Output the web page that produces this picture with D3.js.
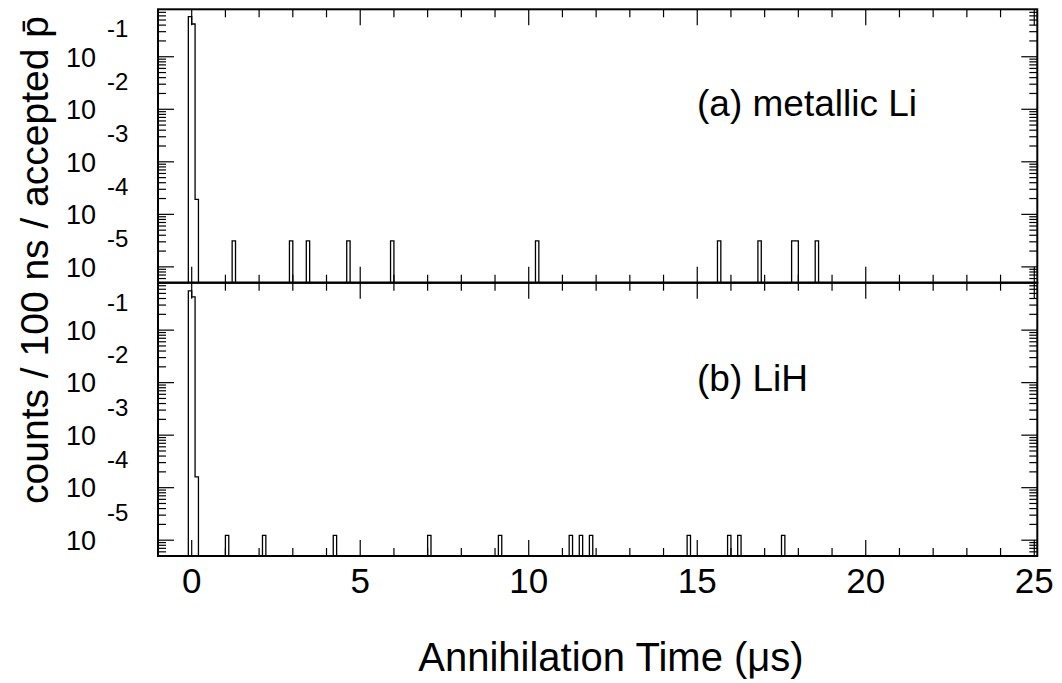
<!DOCTYPE html>
<html><head><meta charset="utf-8">
<script src="https://cdn.jsdelivr.net/npm/d3@7"></script>
<style>
body{margin:0;background:#fff}
svg{display:block}
text{font-family:"Liberation Sans", Arial, Helvetica, sans-serif; fill:#000}
</style>
</head><body>
<svg id="c" width="1062" height="683"></svg>
<script>
// ---------------- data ----------------
const binWidth = 0.1; // µs (100 ns)
// (a) metallic Li : low edges of non-empty bins (µs) and their contents
const topBinStarts = [-0.1, 0.0, 0.1, 1.2, 2.9, 3.4, 4.6, 5.9, 10.2, 15.6, 16.8, 17.8, 17.9, 18.5];
const topBinValues = [0.578, 0.42, 1.92e-4, 3.13e-5, 3.13e-5, 3.13e-5, 3.13e-5, 3.13e-5, 3.13e-5, 3.13e-5, 3.13e-5, 3.13e-5, 3.13e-5, 3.13e-5];
// (b) LiH
const bottomBinStarts = [-0.1, 0.0, 0.1, 1.0, 2.1, 4.2, 7.0, 9.1, 11.2, 11.5, 11.8, 14.7, 15.9, 16.2, 17.5];
const bottomBinValues = [0.561, 0.43, 1.6e-4, 1.24e-5, 1.24e-5, 1.24e-5, 1.24e-5, 1.24e-5, 1.24e-5, 1.24e-5, 1.24e-5, 1.24e-5, 1.24e-5, 1.24e-5, 1.24e-5];
const panelLabels = ["(a) metallic Li", "(b) LiH"];
const xTickValues = [0, 5, 10, 15, 20, 25];
const xTickLabels = ["0", "5", "10", "15", "20", "25"];
const yDecades = [1e-1, 1e-2, 1e-3, 1e-4, 1e-5];
const yTickExponents = ["-1", "-2", "-3", "-4", "-5"];
const xDomain = [-1, 25.09];
const yDomain = [5e-6, 0.8];
const xTitle = "Annihilation Time (\u03bcs)";
const yTitle = "counts / 100 ns / accepted p\u0304";

// ---------------- layout ----------------
const svg = d3.select("#c");
const L = 158, R = 1037.3;
const panels = [
  {top: 9.3, bottom: 282.7, starts: topBinStarts, values: topBinValues, label: panelLabels[0], labelY: 116},
  {top: 282.7, bottom: 556, starts: bottomBinStarts, values: bottomBinValues, label: panelLabels[1], labelY: 391}
];
const x = d3.scaleLinear().domain(xDomain).range([L, R]);

panels.forEach(p => {
  const y = d3.scaleLog().domain(yDomain).range([p.bottom, p.top]);
  const g = svg.append("g");

  // histogram outline
  const pts = [{t: xDomain[0], v: yDomain[0]}];
  p.starts.forEach((s, i) => {
    pts.push({t: s, v: p.values[i]});
    const next = p.starts[i + 1];
    if (next === undefined || Math.abs(next - (s + binWidth)) > 1e-6) {
      pts.push({t: s + binWidth, v: yDomain[0]});
    }
  });
  pts.push({t: xDomain[1], v: yDomain[0]});
  const line = d3.line().x(d => x(d.t)).y(d => y(d.v)).curve(d3.curveStepAfter);
  g.append("path").attr("d", line(pts)).attr("fill", "none")
    .attr("stroke", "#000").attr("stroke-width", 1.3);

  // x ticks (bottom pointing up, top pointing down)
  const xt = d3.range(0, 26);
  xt.forEach(t => {
    const len = (t % 5 === 0) ? 16 : 8;
    const xx = x(t);
    g.append("line").attr("x1", xx).attr("x2", xx).attr("y1", p.bottom).attr("y2", p.bottom - len)
      .attr("stroke", "#000").attr("stroke-width", 1.2);
    g.append("line").attr("x1", xx).attr("x2", xx).attr("y1", p.top).attr("y2", p.top + len)
      .attr("stroke", "#000").attr("stroke-width", 1.2);
  });

  // y ticks (left and right)
  const minor = [];
  for (let k = -6; k <= -1; k++) for (let m = 2; m <= 9; m++) {
    const v = m * Math.pow(10, k);
    if (v > yDomain[0] * 1.001 && v < yDomain[1] * 0.999) minor.push(v);
  }
  const drawY = (v, len) => {
    const yy = y(v);
    g.append("line").attr("x1", L).attr("x2", L + len).attr("y1", yy).attr("y2", yy)
      .attr("stroke", "#000").attr("stroke-width", 1.2);
    g.append("line").attr("x1", R).attr("x2", R - len).attr("y1", yy).attr("y2", yy)
      .attr("stroke", "#000").attr("stroke-width", 1.2);
  };
  minor.forEach(v => drawY(v, 8));
  yDecades.forEach(v => drawY(v, 16));

  // y labels
  yDecades.forEach((v, i) => {
    const yy = y(v);
    g.append("text").attr("x", 96).attr("y", yy + 9.8).attr("text-anchor", "end")
      .attr("font-size", 27).text("10");
    g.append("text").attr("x", 107).attr("y", yy - 19.5).attr("text-anchor", "start")
      .attr("font-size", 24).text(yTickExponents[i]);
  });

  // frame
  g.append("rect").attr("x", L).attr("y", p.top).attr("width", R - L).attr("height", p.bottom - p.top)
    .attr("fill", "none").attr("stroke", "#000").attr("stroke-width", 2);

  // panel label
  g.append("text").attr("x", 697).attr("y", p.labelY).attr("font-size", 37).text(p.label);
});

// x tick labels
xTickValues.forEach((t, i) => {
  svg.append("text").attr("x", x(t)).attr("y", 593).attr("text-anchor", "middle")
    .attr("font-size", 35).text(xTickLabels[i]);
});

// axis titles
svg.append("text").attr("x", 611).attr("y", 671).attr("text-anchor", "middle")
  .attr("font-size", 40).text(xTitle);
svg.append("text").attr("transform", "translate(48,260) rotate(-90)").attr("text-anchor", "middle")
  .attr("font-size", 39).text(yTitle);
</script>
</body></html>
